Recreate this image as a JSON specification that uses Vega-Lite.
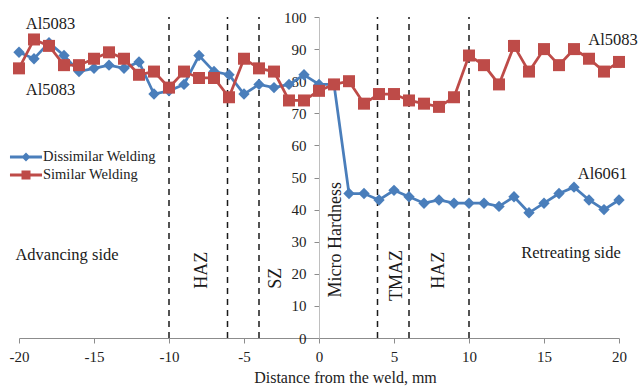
{
  "$schema": "https://vega.github.io/schema/vega-lite/v6.json",
  "width": 600,
  "height": 321,
  "autosize": {"type": "none"},
  "padding": {"left": 19, "top": 17, "right": 20, "bottom": 54},
  "background": "white",
  "config": {
    "view": {"stroke": null},
    "font": "Liberation Serif, serif",
    "text": {"font": "Liberation Serif, serif"},
    "axis": {"grid": false, "labelFont": "Liberation Serif, serif", "titleFont": "Liberation Serif, serif", "labelColor": "#222222", "titleColor": "#222222", "tickSize": 5, "labelOverlap": false},
    "axisX": {
      "tickCount": 8, "titleFontSize": 16, "titleFontWeight": "normal",
      "titleX": 326, "titleY": 44, "titleAlign": "center", "titleBaseline": "alphabetic",
      "labelFontSize": 15, "labelPadding": 6, "labelFlush": false,
      "domainColor": "#8c8c8c", "tickColor": "#8c8c8c"
    },
    "axisY": {
      "tickCount": 10, "offset": -300, "labelFontSize": 15, "labelPadding": 8,
      "domainColor": "#bfbfbf", "tickColor": "#8c8c8c"
    },
    "legend": {"labelFont": "Liberation Serif, serif"}
  },
  "datasets": {
    "hardness": [
      {"dist": -20, "series": "Dissimilar Welding", "hv": 89},
      {"dist": -19, "series": "Dissimilar Welding", "hv": 87},
      {"dist": -18, "series": "Dissimilar Welding", "hv": 92},
      {"dist": -17, "series": "Dissimilar Welding", "hv": 88},
      {"dist": -16, "series": "Dissimilar Welding", "hv": 83},
      {"dist": -15, "series": "Dissimilar Welding", "hv": 84},
      {"dist": -14, "series": "Dissimilar Welding", "hv": 85},
      {"dist": -13, "series": "Dissimilar Welding", "hv": 84},
      {"dist": -12, "series": "Dissimilar Welding", "hv": 86},
      {"dist": -11, "series": "Dissimilar Welding", "hv": 76},
      {"dist": -10, "series": "Dissimilar Welding", "hv": 77},
      {"dist": -9, "series": "Dissimilar Welding", "hv": 79},
      {"dist": -8, "series": "Dissimilar Welding", "hv": 88},
      {"dist": -7, "series": "Dissimilar Welding", "hv": 83},
      {"dist": -6, "series": "Dissimilar Welding", "hv": 82},
      {"dist": -5, "series": "Dissimilar Welding", "hv": 76},
      {"dist": -4, "series": "Dissimilar Welding", "hv": 79},
      {"dist": -3, "series": "Dissimilar Welding", "hv": 78},
      {"dist": -2, "series": "Dissimilar Welding", "hv": 79},
      {"dist": -1, "series": "Dissimilar Welding", "hv": 82},
      {"dist": 0, "series": "Dissimilar Welding", "hv": 79},
      {"dist": 1, "series": "Dissimilar Welding", "hv": 79},
      {"dist": 2, "series": "Dissimilar Welding", "hv": 45},
      {"dist": 3, "series": "Dissimilar Welding", "hv": 45},
      {"dist": 4, "series": "Dissimilar Welding", "hv": 43},
      {"dist": 5, "series": "Dissimilar Welding", "hv": 46},
      {"dist": 6, "series": "Dissimilar Welding", "hv": 44},
      {"dist": 7, "series": "Dissimilar Welding", "hv": 42},
      {"dist": 8, "series": "Dissimilar Welding", "hv": 43},
      {"dist": 9, "series": "Dissimilar Welding", "hv": 42},
      {"dist": 10, "series": "Dissimilar Welding", "hv": 42},
      {"dist": 11, "series": "Dissimilar Welding", "hv": 42},
      {"dist": 12, "series": "Dissimilar Welding", "hv": 41},
      {"dist": 13, "series": "Dissimilar Welding", "hv": 44},
      {"dist": 14, "series": "Dissimilar Welding", "hv": 39},
      {"dist": 15, "series": "Dissimilar Welding", "hv": 42},
      {"dist": 16, "series": "Dissimilar Welding", "hv": 45},
      {"dist": 17, "series": "Dissimilar Welding", "hv": 47},
      {"dist": 18, "series": "Dissimilar Welding", "hv": 43},
      {"dist": 19, "series": "Dissimilar Welding", "hv": 40},
      {"dist": 20, "series": "Dissimilar Welding", "hv": 43},
      {"dist": -20, "series": "Similar Welding", "hv": 84},
      {"dist": -19, "series": "Similar Welding", "hv": 93},
      {"dist": -18, "series": "Similar Welding", "hv": 91},
      {"dist": -17, "series": "Similar Welding", "hv": 85},
      {"dist": -16, "series": "Similar Welding", "hv": 85},
      {"dist": -15, "series": "Similar Welding", "hv": 87},
      {"dist": -14, "series": "Similar Welding", "hv": 89},
      {"dist": -13, "series": "Similar Welding", "hv": 87},
      {"dist": -12, "series": "Similar Welding", "hv": 82},
      {"dist": -11, "series": "Similar Welding", "hv": 83},
      {"dist": -10, "series": "Similar Welding", "hv": 78},
      {"dist": -9, "series": "Similar Welding", "hv": 83},
      {"dist": -8, "series": "Similar Welding", "hv": 81},
      {"dist": -7, "series": "Similar Welding", "hv": 81},
      {"dist": -6, "series": "Similar Welding", "hv": 75},
      {"dist": -5, "series": "Similar Welding", "hv": 87},
      {"dist": -4, "series": "Similar Welding", "hv": 84},
      {"dist": -3, "series": "Similar Welding", "hv": 83},
      {"dist": -2, "series": "Similar Welding", "hv": 74},
      {"dist": -1, "series": "Similar Welding", "hv": 74},
      {"dist": 0, "series": "Similar Welding", "hv": 77},
      {"dist": 1, "series": "Similar Welding", "hv": 79},
      {"dist": 2, "series": "Similar Welding", "hv": 80},
      {"dist": 3, "series": "Similar Welding", "hv": 73},
      {"dist": 4, "series": "Similar Welding", "hv": 76},
      {"dist": 5, "series": "Similar Welding", "hv": 76},
      {"dist": 6, "series": "Similar Welding", "hv": 74},
      {"dist": 7, "series": "Similar Welding", "hv": 73},
      {"dist": 8, "series": "Similar Welding", "hv": 72},
      {"dist": 9, "series": "Similar Welding", "hv": 75},
      {"dist": 10, "series": "Similar Welding", "hv": 88},
      {"dist": 11, "series": "Similar Welding", "hv": 85},
      {"dist": 12, "series": "Similar Welding", "hv": 79},
      {"dist": 13, "series": "Similar Welding", "hv": 91},
      {"dist": 14, "series": "Similar Welding", "hv": 83},
      {"dist": 15, "series": "Similar Welding", "hv": 90},
      {"dist": 16, "series": "Similar Welding", "hv": 85},
      {"dist": 17, "series": "Similar Welding", "hv": 90},
      {"dist": 18, "series": "Similar Welding", "hv": 87},
      {"dist": 19, "series": "Similar Welding", "hv": 83},
      {"dist": 20, "series": "Similar Welding", "hv": 86}
    ],
    "zones": [
      {"dist": -10}, {"dist": -6.1}, {"dist": -4}, {"dist": 3.9}, {"dist": 6}, {"dist": 10}
    ],
    "notes": [
      {"dist": -17.9, "hv": 97.7, "text": "Al5083"},
      {"dist": -17.9, "hv": 77.2, "text": "Al5083"},
      {"dist": 19.6, "hv": 92.7, "text": "Al5083"},
      {"dist": 18.9, "hv": 51.2, "text": "Al6061"},
      {"dist": -16.8, "hv": 25.8, "text": "Advancing side"},
      {"dist": 16.8, "hv": 26.5, "text": "Retreating side"}
    ],
    "zonenotes": [
      {"dist": -7.77, "hv": 21.1, "text": "HAZ"},
      {"dist": -2.88, "hv": 18.6, "text": "SZ"},
      {"dist": 1.12, "hv": 30.6, "text": "Micro Hardness"},
      {"dist": 5.18, "hv": 19.5, "text": "TMAZ"},
      {"dist": 8.0, "hv": 21.1, "text": "HAZ"}
    ]
  },
  "layer": [
    {
      "data": {"name": "zones"},
      "mark": {"type": "rule", "color": "#1a1a1a", "strokeWidth": 1.5, "strokeDash": [6, 5]},
      "encoding": {
        "x": {"field": "dist", "type": "quantitative", "title": "Distance from the weld, mm", "scale": {"domain": [-20, 20], "nice": false, "zero": false}, "axis": {"labelExpr": "toString(datum.value)", "labelFont": "Liberation Serif, serif", "titleFont": "Liberation Serif, serif"}},
        "y": {"datum": 0, "type": "quantitative", "title": null, "scale": {"domain": [0, 100], "nice": false}, "axis": {"labelFont": "Liberation Serif, serif"}},
        "y2": {"datum": 100}
      }
    },
    {
      "data": {"name": "hardness"},
      "mark": {"type": "line", "strokeWidth": 2.75},
      "encoding": {
        "x": {"field": "dist", "type": "quantitative", "title": "Distance from the weld, mm"},
        "y": {"field": "hv", "type": "quantitative", "title": null},
        "color": {
          "field": "series", "type": "nominal",
          "scale": {"domain": ["Dissimilar Welding", "Similar Welding"], "range": ["#4a7ebb", "#be4b48"]},
          "legend": {
            "title": null, "orient": "none", "legendX": -2, "legendY": 131,
            "padding": 0, "labelFont": "Liberation Serif, serif", "labelFontSize": 14.5, "labelColor": "#222222",
            "labelOffset": 8, "symbolSize": 324, "rowPadding": 2,
            "encode": {
              "symbols": {
                "update": {
                  "shape": {"signal": "datum.value == 'Dissimilar Welding' ? 'M-1.78,-0.167H-0.333L0,-0.5L0.333,-0.167H1.78V0.167H0.333L0,0.5L-0.333,0.167H-1.78Z' : 'M-1.78,-0.167H-0.5V-0.5H0.5V-0.167H1.78V0.167H0.5V0.5H-0.5V0.167H-1.78Z'"},
                  "fill": {"signal": "datum.value == 'Dissimilar Welding' ? '#4a7ebb' : '#be4b48'"},
                  "stroke": {"value": "transparent"},
                  "strokeWidth": {"value": 0},
                  "size": {"value": 324}
                }
              }
            }
          }
        }
      }
    },
    {
      "data": {"name": "hardness"},
      "transform": [{"filter": "datum.series == 'Dissimilar Welding'"}],
      "mark": {"type": "point", "filled": true, "opacity": 1, "shape": "diamond", "size": 130, "color": "#4a7ebb"},
      "encoding": {
        "x": {"field": "dist", "type": "quantitative", "title": "Distance from the weld, mm"},
        "y": {"field": "hv", "type": "quantitative", "title": null}
      }
    },
    {
      "data": {"name": "hardness"},
      "transform": [{"filter": "datum.series == 'Similar Welding'"}],
      "mark": {"type": "point", "filled": true, "opacity": 1, "shape": "square", "size": 144, "color": "#be4b48"},
      "encoding": {
        "x": {"field": "dist", "type": "quantitative", "title": "Distance from the weld, mm"},
        "y": {"field": "hv", "type": "quantitative", "title": null}
      }
    },
    {
      "data": {"name": "notes"},
      "mark": {"type": "text", "font": "Liberation Serif", "fontSize": 16.5, "color": "#1a1a1a", "align": "center", "baseline": "middle"},
      "encoding": {
        "x": {"field": "dist", "type": "quantitative", "title": "Distance from the weld, mm"},
        "y": {"field": "hv", "type": "quantitative", "title": null},
        "text": {"field": "text"}
      }
    },
    {
      "data": {"name": "zonenotes"},
      "mark": {"type": "text", "font": "Liberation Serif", "fontSize": 18, "color": "#1a1a1a", "align": "center", "baseline": "middle", "angle": 270},
      "encoding": {
        "x": {"field": "dist", "type": "quantitative", "title": "Distance from the weld, mm"},
        "y": {"field": "hv", "type": "quantitative", "title": null},
        "text": {"field": "text"}
      }
    }
  ]
}
